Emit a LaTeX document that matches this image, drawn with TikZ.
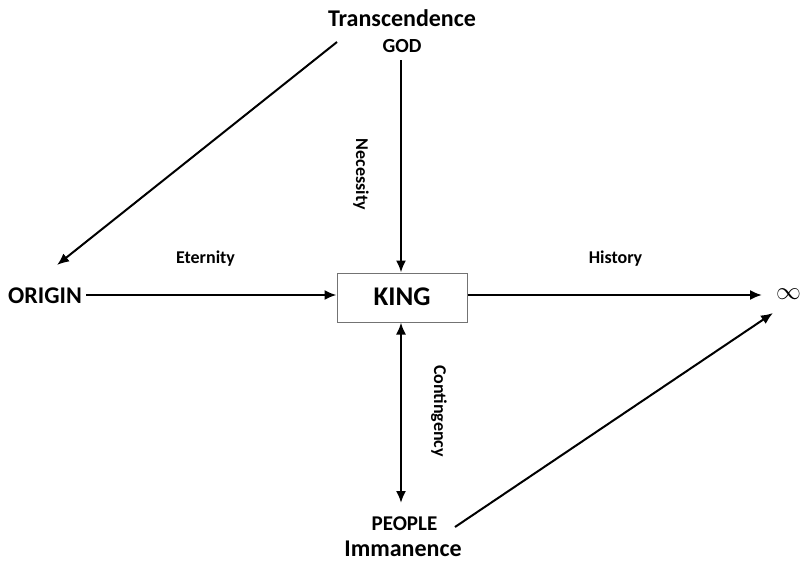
\documentclass[tikz,border=0pt]{standalone}
\usepackage{fontspec}
\setmainfont{Carlito}
\usetikzlibrary{arrows.meta}
\begin{document}
\begin{tikzpicture}[x=1pt,y=-1pt,
  lbl/.style={font=\bfseries\fontsize{#1}{#1}\selectfont, inner sep=0pt},
  conn/.style={line width=2pt, -{Latex[length=12pt,width=10pt]}},
  conn2/.style={line width=2pt, {Latex[length=12pt,width=10pt]}-{Latex[length=12pt,width=10pt]}}]
\useasboundingbox (0,0) rectangle (800,563);
% texts
\node[lbl=24, anchor=base] (trans) at (402,26) {Transcendence};
\node[lbl=20, anchor=base] (god) at (402,52) {GOD};
\node[lbl=24, anchor=base west] (origin) at (8,303) {ORIGIN};
\node[draw=black!55, line width=1pt, minimum width=130pt, minimum height=49pt, inner sep=0pt] (king) at (402,297.5) {};
\node[lbl=27, anchor=base] (kingtxt) at (402,305) {KING};
\node[lbl=18, anchor=base] (eternity) at (205.5,263) {Eternity};
\node[lbl=18, anchor=base] (history) at (615.5,263) {History};
\node[lbl=18, rotate=-90] (necessity) at (361,174.5) {Necessity};
\node[lbl=18, rotate=-90] (contingency) at (439,411) {Contingency};
\node[lbl=21, anchor=base] (people) at (404.5,530) {PEOPLE};
\node[lbl=24, anchor=base, text depth=0pt] (immanence) at (403,556) {Immanence};
\node[inner sep=0pt, anchor=west, font=\fontsize{34}{34}\selectfont] (inf) at (776,294) {$\infty$};
% connector ends
\coordinate (tstart) at (337,42);
\coordinate (oend) at (57,265);
\coordinate (godbot) at (401,60);
\coordinate (origr) at (86,295);
\coordinate (infl) at (762,295);
\coordinate (peoptop) at (401,503);
\coordinate (pstart) at (455,527);
\coordinate (pend) at (773,313);
% connectors
\draw[conn] (tstart) -- (oend);
\draw[conn] (godbot) -- (godbot |- king.north);
\draw[conn] (origr) -- (origr -| king.west);
\draw[conn] (king.east |- infl) -- (infl);
\draw[conn2] (peoptop |- king.south) -- (peoptop);
\draw[conn] (pstart) -- (pend);
\end{tikzpicture}
\end{document}
